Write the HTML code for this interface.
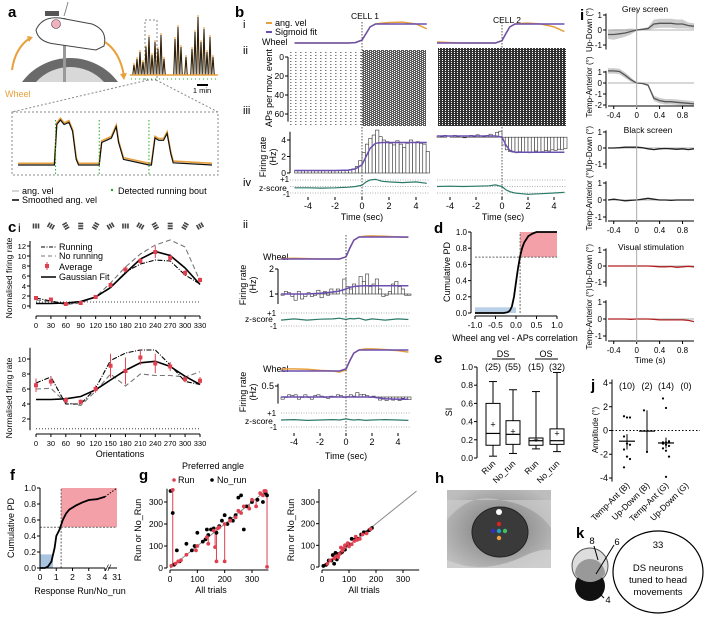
<!DOCTYPE html>
<html><head><meta charset="utf-8">
<style>
body{margin:0;background:#fff}
svg{display:block;font-family:"Liberation Sans",sans-serif}
.lb{font-weight:bold;font-size:15px}
.s{font-size:8.5px}
</style></head><body>
<svg id="fig" width="708" height="620" viewBox="0 0 708 620">
<defs>
<pattern id="sparse" width="5" height="3" patternUnits="userSpaceOnUse"><rect x="0" y="1" width="1.5" height="1" fill="#222"/></pattern>
<pattern id="dense" width="3" height="2" patternUnits="userSpaceOnUse"><rect width="3" height="2" fill="#1a1a1a"/><rect x="1" y="0" width="1" height="1" fill="#fff"/></pattern>
<pattern id="dense2" width="4" height="2" patternUnits="userSpaceOnUse"><rect width="4" height="2" fill="#222"/><rect x="2" y="1" width="1" height="1" fill="#fff"/><rect x="0" y="0" width="1" height="1" fill="#fff"/></pattern>
<radialGradient id="eyeg" cx="0.5" cy="0.5" r="0.6"><stop offset="0" stop-color="#777"/><stop offset="0.5" stop-color="#9a9a9a"/><stop offset="1" stop-color="#bdbdbd"/></radialGradient>
</defs>
<text class="lb" x="8" y="17">a</text>
<text class="lb" x="235" y="17">b</text>
<text class="lb" x="8" y="232">c</text>
<text x="18" y="232" font-size="12">i</text>
<text class="lb" x="434" y="233">d</text>
<text class="lb" x="434" y="363">e</text>
<text class="lb" x="10" y="480">f</text>
<text class="lb" x="139" y="480">g</text>
<text class="lb" x="435" y="483">h</text>
<text class="lb" x="580" y="20">i</text>
<text class="lb" x="591" y="390">j</text>
<text class="lb" x="576" y="538">k</text>
<g font-size="11">
<text x="243" y="28">i</text><text x="243" y="54">ii</text><text x="243" y="114">iii</text><text x="243" y="186">iv</text><text x="243" y="228">ii</text>
</g>
<text x="365" y="19" class="s" text-anchor="middle">CELL 1</text>
<text x="507" y="23" class="s" text-anchor="middle">CELL 2</text>
<line x1="266" y1="23" x2="272" y2="23" stroke="#e8a03c" stroke-width="2"/>
<text x="275" y="26" font-size="9">ang. vel</text>
<line x1="266" y1="32" x2="272" y2="32" stroke="#6b4fb0" stroke-width="2"/>
<text x="275" y="35" font-size="9">Sigmoid fit</text>
<text x="262" y="45" font-size="9">Wheel</text>
<text x="272" y="88" font-size="9" transform="rotate(-90 272 88)" text-anchor="middle">APs per mov. event</text>
<text x="266" y="157" font-size="9" transform="rotate(-90 266 157)" text-anchor="middle">Firing rate</text>
<text x="276" y="157" font-size="9" transform="rotate(-90 276 157)" text-anchor="middle">(Hz)</text>
<text x="259" y="191" font-size="8.5">z-score</text>
<text x="280" y="182" font-size="8">+1</text>
<text x="283" y="197" font-size="8">-1</text>
<text x="362" y="220" font-size="9" text-anchor="middle">Time (sec)</text>
<text x="503" y="220" font-size="9" text-anchor="middle">Time (sec)</text>
<text x="263" y="260" font-size="9">Wheel</text>
<text x="246" y="285" font-size="9" transform="rotate(-90 246 285)" text-anchor="middle">Firing rate</text>
<text x="256" y="285" font-size="9" transform="rotate(-90 256 285)" text-anchor="middle">(Hz)</text>
<text x="245" y="322" font-size="8.5">z-score</text>
<text x="267" y="316" font-size="8">+1</text>
<text x="270" y="329" font-size="8">-1</text>
<text x="263" y="372" font-size="9">Wheel</text>
<text x="246" y="392" font-size="9" transform="rotate(-90 246 392)" text-anchor="middle">Firing rate</text>
<text x="256" y="392" font-size="9" transform="rotate(-90 256 392)" text-anchor="middle">(Hz)</text>
<text x="245" y="424" font-size="8.5">z-score</text>
<text x="267" y="416" font-size="8">+1</text>
<text x="270" y="430" font-size="8">-1</text>
<text x="346" y="459" font-size="9" text-anchor="middle">Time (sec)</text>
<text x="12" y="278" font-size="8.5" transform="rotate(-90 12 278)" text-anchor="middle">Normalised firing rate</text>
<text x="12" y="398" font-size="8.5" transform="rotate(-90 12 398)" text-anchor="middle">Normalised firing rate</text>
<text x="120" y="457" font-size="9" text-anchor="middle">Orientations</text>
<g font-size="9">
<line x1="41" y1="247" x2="56" y2="247" stroke="#000" stroke-dasharray="4,1.5,1,1.5"/><text x="59" y="250">Running</text>
<line x1="41" y1="256" x2="56" y2="256" stroke="#777" stroke-dasharray="4,3"/><text x="59" y="259">No running</text>
<line x1="47" y1="262" x2="47" y2="270" stroke="#e04050"/><rect x="45" y="264" width="4" height="4" fill="#e04050"/><text x="59" y="270">Average</text>
<line x1="41" y1="277" x2="56" y2="277" stroke="#000" stroke-width="1.5"/><text x="59" y="280">Gaussian Fit</text>
</g>
<text x="5" y="97" font-size="9" fill="#e8a03c">Wheel</text>
<text x="202" y="93" font-size="7.5" text-anchor="middle">1 min</text>
<line x1="197" y1="85" x2="208" y2="85" stroke="#000" stroke-width="2"/>
<g font-size="9">
<line x1="12" y1="191" x2="19" y2="191" stroke="#aaa"/><text x="22" y="194">ang. vel</text>
<line x1="12" y1="200" x2="19" y2="200" stroke="#000" stroke-width="1.5"/><text x="22" y="203">Smoothed ang. vel</text>
<circle cx="112" cy="190" r="1.2" fill="#2a2"/><text x="118" y="194">Detected running bout</text>
</g>
<text x="450" y="272" font-size="9" transform="rotate(-90 450 272)" text-anchor="middle">Cumulative PD</text>
<text x="515" y="341" font-size="9" text-anchor="middle">Wheel ang vel - APs correlation</text>
<text x="452" y="412" font-size="9" transform="rotate(-90 452 412)" text-anchor="middle">SI</text>
<text x="503" y="357" font-size="9" text-anchor="middle">DS</text>
<line x1="492" y1="359" x2="515" y2="359" stroke="#000"/>
<text x="546" y="357" font-size="9" text-anchor="middle">OS</text>
<line x1="535" y1="359" x2="558" y2="359" stroke="#000"/>
<text x="14" y="528" font-size="9" transform="rotate(-90 14 528)" text-anchor="middle">Cumulative PD</text>
<text x="80" y="594" font-size="9" text-anchor="middle">Response Run/No_run</text>
<text x="213" y="469" font-size="9" text-anchor="middle">Preferred angle</text>
<circle cx="174" cy="480" r="1.8" fill="#e04050"/>
<text x="178" y="483" font-size="9">Run</text>
<circle cx="212" cy="480" r="1.8" fill="#000"/>
<text x="217" y="483" font-size="9">No_run</text>
<text x="141" y="530" font-size="9" transform="rotate(-90 141 530)" text-anchor="middle">Run or No_Run</text>
<text x="211" y="593" font-size="9" text-anchor="middle">All trials</text>
<text x="294" y="530" font-size="9" transform="rotate(-90 294 530)" text-anchor="middle">Run or No_Run</text>
<text x="364" y="593" font-size="9" text-anchor="middle">All trials</text>
<text x="645" y="12" font-size="8.5" text-anchor="middle">Grey screen</text>
<text x="648" y="133" font-size="8.5" text-anchor="middle">Black screen</text>
<text x="651" y="250" font-size="8.5" text-anchor="middle">Visual stimulation</text>
<text x="650" y="363" font-size="8.5" text-anchor="middle">Time (s)</text>
<g font-size="8" text-anchor="middle">
<text x="592" y="30" transform="rotate(-90 592 30)">Up-Down (°)</text>
<text x="592" y="87" transform="rotate(-90 592 87)">Temp-Anterior (°)</text>
<text x="592" y="148" transform="rotate(-90 592 148)">Up-Down (°)</text>
<text x="592" y="200" transform="rotate(-90 592 200)">Temp-Anterior (°)</text>
<text x="592" y="266" transform="rotate(-90 592 266)">Up-Down (°)</text>
<text x="592" y="319" transform="rotate(-90 592 319)">Temp-Anterior (°)</text>
</g>
<text x="598" y="430" font-size="8" transform="rotate(-90 598 430)" text-anchor="middle">Amplitude (°)</text>
<ellipse cx="658" cy="572" rx="45" ry="41" fill="#fff" stroke="#000" stroke-width="1.2"/>
<circle cx="590" cy="566" r="18" fill="#ddd" stroke="#555"/>
<circle cx="590" cy="586" r="15" fill="#111"/>
<path d="M575,574 A15,15 0 0 1 605,574 A18,18 0 0 1 575,574 Z" fill="#999"/>
<g font-size="9.5" text-anchor="middle">
<text x="658" y="548">33</text><text x="658" y="571">DS neurons</text><text x="658" y="583">tuned to head</text><text x="658" y="595">movements</text>
<text x="592" y="544">8</text><text x="617" y="545">6</text><text x="608" y="603">4</text>
</g>
<line x1="594" y1="546" x2="598" y2="560" stroke="#000"/>
<line x1="614" y1="545" x2="596" y2="574" stroke="#000"/>
<line x1="604" y1="598" x2="600" y2="594" stroke="#000"/>
<rect x="447" y="490" width="104" height="78" fill="url(#eyeg)"/>
<path d="M447,520 Q470,492 500,500 Q535,505 551,528 L551,500 L447,500 Z" fill="#d0d0d0" opacity="0.6"/>
<path d="M447,560 Q480,575 520,558 Q540,548 551,550 L551,568 L447,568 Z" fill="#d5d5d5" opacity="0.7"/>
<ellipse cx="500" cy="532" rx="28" ry="25" fill="#3a3a3a" stroke="#222"/>
<circle cx="499" cy="512" r="3" fill="#fff"/>
<circle cx="499" cy="524" r="2.2" fill="#e02020"/>
<circle cx="493" cy="531" r="2.2" fill="#3030c0"/>
<circle cx="499" cy="531" r="2.2" fill="#20a0c0"/>
<circle cx="505" cy="531" r="2.2" fill="#40c060"/>
<circle cx="499" cy="538" r="2.2" fill="#f0a040"/>
<g>
<path d="M22,82 A60,60 0 0 1 118,82 Z" fill="#6a6a6a"/>
<path d="M36,82 A46,46 0 0 1 104,82 Z" fill="#d8d8d8"/>
<rect x="63" y="18" width="3" height="64" fill="#999"/>
<path d="M36,30 Q42,16 60,18 L92,24 Q108,30 104,46 L96,50 L55,44 Q38,42 36,30 Z" fill="#fff" stroke="#444"/>
<circle cx="56" cy="24" r="4.5" fill="#f0b0c0" stroke="#444" stroke-width="0.6"/>
<rect x="45" y="11" width="14" height="5" fill="#555"/>
<path d="M68,2 Q66,10 64,16" fill="none" stroke="#888"/>
<path d="M12,70 Q15,48 30,38" fill="none" stroke="#e8a03c" stroke-width="2"/>
<path d="M27,36 L33,37 L29,42 Z" fill="#e8a03c"/>
<path d="M105,42 Q120,52 124,76" fill="none" stroke="#e8a03c" stroke-width="2"/>
<path d="M120,74 L127,73 L124,80 Z" fill="#e8a03c"/>
</g>
<path d="M148,80 L12,112 M156,80 L218,112" stroke="#888" stroke-dasharray="2,2" fill="none"/>
<rect x="145" y="20" width="12" height="60" fill="none" stroke="#888" stroke-dasharray="2,2"/>
<rect x="12" y="112" width="206" height="63" fill="none" stroke="#888" stroke-dasharray="2,2"/>
</svg>
<script>
const NS='http://www.w3.org/2000/svg';
const S=document.getElementById('fig');
function mk(tag,attrs){const e=document.createElementNS(NS,tag);for(const k in attrs)e.setAttribute(k,attrs[k]);S.appendChild(e);return e;}
function lin(d0,d1,r0,r1){return v=>r0+(v-d0)*(r1-r0)/(d1-d0);}
function path(xs,ys,sx,sy,st,name){let d='';xs.forEach((x,i)=>{d+=(i?'L':'M')+sx(x).toFixed(1)+','+sy(ys[i]).toFixed(1);});const p=mk('path',Object.assign({d:d,fill:'none'},st));


return p;}
function yaxis(x,ymin,ymax,sy,ticks,labels,name,fs){const a=mk('line',{x1:x,x2:x,y1:sy(ymin),y2:sy(ymax),stroke:'#000'});


ticks.forEach((v,i)=>{const t=mk('line',{x1:x-3,x2:x,y1:sy(v),y2:sy(v),stroke:'#000'});


const tx=mk('text',{x:x-4,y:sy(v)+3,'text-anchor':'end','font-size':fs||9});


tx.textContent=labels[i];});}
function xaxis(y,xmin,xmax,sx,ticks,labels,name,fs,noline){if(!noline){const a=mk('line',{x1:sx(xmin),x2:sx(xmax),y1:y,y2:y,stroke:'#000'});

}
ticks.forEach((v,i)=>{const t=mk('line',{x1:sx(v),x2:sx(v),y1:y,y2:y+3,stroke:'#000'});


const tx=mk('text',{x:sx(v),y:y+12,'text-anchor':'middle','font-size':fs||9});


tx.textContent=labels[i];});}
function hline(x1,x2,y,st,name){const l=mk('line',Object.assign({x1:x1,x2:x2,y1:y,y2:y},st));

return l;}
function vline(x,y1,y2,st,name){const l=mk('line',Object.assign({x1:x,x2:x,y1:y1,y2:y2},st));

return l;}

/* ---------- DATA ---------- */
const runBoutTop=[[134,12],[137,18],[140,25],[143,15],[146,30],[149,40],[152,22],[155,35],[158,28],[161,42],[164,18],[175,38],[178,50],[181,30],[186,20],[192,28],[195,45],[198,60],[201,35],[204,48],[207,25],[210,40],[213,20]];
const zoomT=[0,30,32,35,38,42,45,48,50,67,69,73,77,81,83,87,108,110,113,116,120,123,126,128,160];
const zoomV=[0,0,36,40,36,38,30,5,0,0,20,22,24,34,20,5,0,0,24,22,22,28,10,2,0];
const boutStarts=[31,67,108];
const orientTicks=[0,30,60,90,120,150,180,210,240,270,300,330];
const cTopAvg=[1.6,1.3,0.4,0.6,1.8,4.2,7.3,9.0,10.8,9.6,6.6,5.2];
const cTopErr=[0.3,0.3,0.2,0.3,0.4,0.5,0.6,0.6,1.2,0.8,0.6,0.5];
const cTopRun=[1.6,1.0,0.4,0.8,1.8,3.6,6.8,8.4,9.2,9.0,6.2,4.4];
const cTopNoRun=[1.2,0.9,0.3,0.6,1.8,4.6,7.8,10.4,12.2,13.2,11.8,5.0];
const cTopFit=[0.5,0.5,0.6,0.9,1.8,3.7,6.6,9.4,10.9,10.1,7.6,4.3];
const cBotAvg=[6.5,7.0,4.5,4.3,6.0,9.1,8.4,10.2,9.4,9.0,7.3,7.1];
const cBotErr=[0.9,0.6,0.4,0.3,0.5,1.6,1.8,1.0,1.3,0.6,0.4,0.5];
const cBotRun=[6.8,7.6,4.0,4.0,6.1,9.8,10.8,11.2,11.2,9.2,7.0,6.6];
const cBotNoRun=[6.0,6.1,4.2,3.8,5.7,8.0,6.4,8.0,7.8,7.8,7.6,8.3];
const cBotFit=[4.6,4.6,4.7,5.0,5.9,7.2,8.5,9.5,9.7,9.0,7.7,6.6];
const bTime=[-5,-4,-3,-2,-1,-0.5,0,0.3,0.6,1,1.5,2,3,4,4.8];
const c1Wheel=[0,0,0,0,0,0.02,0.15,0.5,0.85,1,1,1,1,1,1];
const c1Orange=[0,0,0,0,0,0.02,0.15,0.5,0.85,1,1.05,1.08,1.1,1.0,0.75];
const c2Wheel=[0,0,0,0,0,0,0.12,0.5,0.85,1,1,1,1,1,1];
const c2Orange=[0.05,0.02,0,0,0,0,0.12,0.5,0.85,1,1.03,1.05,1.0,0.85,0.6];
const c1Hist=[0.3,0.3,0.3,0.3,0.3,0.3,0.3,0.3,0.3,0.3,0.3,0.3,0.3,0.3,0.3,0.3,0.4,0.5,0.8,1.5,2.5,3.5,4.2,4.6,5.2,4.4,4.0,3.8,3.6,3.4,3.9,3.5,3.1,3.6,4.0,3.7,3.8,3.6,3.5,2.6];
const c1Fit=[0.3,0.3,0.3,0.3,0.35,0.5,1.0,2.0,3.0,3.6,3.7,3.7,3.7,3.7,3.7];
const c2Hist=[4.0,3.9,4.1,3.8,4.0,4.1,3.9,4.0,3.7,4.0,4.1,3.9,4.2,4.0,3.9,4.1,4.3,4.0,4.6,4.8,2.5,1.7,1.4,1.3,1.2,1.4,1.3,1.3,1.2,1.3,1.5,1.3,1.4,1.6,1.5,1.7,1.6,1.8,1.7,1.9];
const c2Fit=[4,4,4,4,4,4,3.8,2.5,1.6,1.3,1.3,1.3,1.3,1.3,1.3];
const c1Z=[-0.2,-0.2,-0.25,-0.2,-0.1,0,0.2,0.7,1.0,1.1,0.8,0.7,0.6,0.7,0.5];
const c2Z=[0,0.05,0,0.05,0.1,0.25,0,-0.5,-0.8,-1,-1.1,-1.2,-1.1,-1.0,-0.9];
const mAHist=[0.95,1.1,1.05,0.9,0.75,1.1,0.8,0.9,1.05,0.9,0.95,1.15,0.85,1.1,0.95,1.2,1.1,1.2,1.0,1.6,1.3,1.2,1.4,1.3,1.7,1.5,1.8,1.3,1.4,1.6,1.2,0.9,0.95,1.1,1.4,1.5,1.3,1.2,0.95,0.95];
const mAFit=[1,1,1,1.03,1.08,1.12,1.2,1.27,1.3,1.32,1.33,1.33,1.33,1.33,1.33];
const mAWheel=[0,0,0,0,0,0,0.1,0.5,0.85,1,1,1,1,1,1];
const mAOrange=[0.02,0.03,0.02,0,0,0,0.1,0.5,0.85,1,1.04,1.05,1.03,1,0.98];
const mAZ=[-0.1,0.1,-0.1,0.05,0.1,0.2,0,0.15,0.1,0.2,-0.1,0.1,-0.1,0.1,0];
const mBHist=[0.2,0.25,0.3,0.28,0.3,0.2,0.25,0.3,0.25,0.2,0.28,0.3,0.27,0.25,0.22,0.27,0.26,0.3,0.28,0.25,0.26,0.3,0.27,0.35,0.3,0.31,0.28,0.25,0.27,0.25,0.18,0.2,0.17,0.2,0.18,0.2,0.17,0.22,0.2,0.19];
const mBFit=[0.25,0.25,0.25,0.25,0.25,0.25,0.25,0.25,0.25,0.25,0.25,0.25,0.21,0.2,0.2];
const mBWheel=[0,0,0,0,0,0,0.1,0.5,0.85,1,1,1,1,1,1];
const mBOrange=[0.1,0.1,0.08,0.03,0,-0.05,0.05,0.5,0.85,1,1.05,1.05,1.02,0.97,0.9];
const mBZ=[0,0.05,-0.05,0,0.05,0,0.15,0.05,0,0.05,-0.05,0,0.05,0,-0.05];
const dX=[-1,-0.3,-0.2,-0.15,-0.1,-0.05,0,0.05,0.1,0.15,0.2,0.3,0.4,0.5,1.0];
const dY=[0,0,0.01,0.03,0.08,0.2,0.38,0.55,0.7,0.8,0.87,0.95,0.98,1,1];
const eBoxes=[{lo:0.02,q1:0.14,med:0.27,q3:0.6,hi:0.84,mean:0.37},{lo:0.05,q1:0.15,med:0.26,q3:0.41,hi:0.75,mean:0.29},{lo:0.1,q1:0.14,med:0.19,q3:0.22,hi:0.73,mean:0.2},{lo:0.07,q1:0.15,med:0.19,q3:0.32,hi:0.94,mean:0.27}];
const eCounts=['(25)','(55)','(15)','(32)'];
const eNames=['Run','No_run','Run','No_run'];
const fX=[0,0.3,0.5,0.7,0.9,1.0,1.2,1.4,1.6,1.8,2.2,2.6,3,3.5,4];
const fY=[0,0,0.02,0.08,0.25,0.4,0.48,0.6,0.68,0.73,0.78,0.82,0.85,0.86,0.89];
const gLRed=[[5,10],[10,355],[20,20],[30,30],[40,35],[60,60],[95,80],[100,100],[135,140],[140,110],[165,95],[170,30],[175,180],[200,30],[200,200],[240,230],[250,260],[260,250],[270,280],[290,270],[300,310],[315,280],[330,340],[340,330],[345,350],[355,5],[350,350],[160,170],[180,185],[220,215]];
const gLBlack=[[2,350],[10,250],[15,15],[25,80],[35,30],[60,110],[80,80],[90,100],[100,160],[120,120],[135,175],[140,150],[150,175],[160,180],[180,190],[190,215],[200,240],[210,200],[220,225],[230,215],[240,240],[250,320],[260,330],[270,175],[280,280],[300,300],[320,310],[340,300],[350,340],[355,330],[130,130],[170,160]];
const gRRed=[[20,15],[30,30],[45,40],[55,50],[65,60],[80,85],[85,100],[100,95],[110,105],[120,120],[130,125],[140,130],[150,150],[165,155],[180,175],[60,45],[75,75],[95,110],[125,140],[70,90]];
const gRBlack=[[5,5],[15,10],[25,30],[35,30],[40,55],[50,65],[55,35],[60,60],[70,65],[75,70],[90,100],[100,105],[110,130],[120,125],[135,130],[145,150],[155,160],[165,160],[175,170],[185,180],[45,15],[85,80]];
const iT=[-0.5,-0.4,-0.3,-0.2,-0.1,0,0.1,0.2,0.3,0.4,0.5,0.6,0.7,0.8,0.9,1.0];
const iGreyUD=[-0.3,-0.3,-0.25,-0.2,-0.1,0,0.05,0.1,0.4,0.45,0.45,0.45,0.4,0.4,0.3,0.25];
const iGreyUDsem=[0.3,0.35,0.3,0.25,0.2,0.05,0.05,0.1,0.3,0.3,0.3,0.3,0.3,0.3,0.2,0.2];
const iGreyTA=[1.1,1.1,1.05,0.7,0.3,0,-0.05,-0.2,-1.4,-1.6,-1.7,-1.7,-1.75,-1.8,-1.85,-1.9];
const iGreyTAsem=[0.25,0.25,0.25,0.25,0.2,0.05,0.05,0.1,0.25,0.25,0.25,0.25,0.25,0.25,0.25,0.25];
const iBlackUD=[0,0,0.02,0.05,0.05,0.05,0.02,-0.05,-0.1,-0.05,-0.03,-0.05,-0.08,-0.05,-0.1,-0.05];
const iBlackTA=[0,0.05,0,-0.05,-0.02,0,0.05,0.1,0.05,0,0,-0.02,0,0,0,0];
const iVisUD=[0,0,0,0,0,0,0,0,-0.02,-0.05,-0.05,-0.03,-0.08,-0.05,-0.02,-0.05];
const iVisTA=[0,0,0,0,-0.02,0,0,0,-0.02,-0.05,-0.05,-0.05,-0.05,-0.05,-0.08,-0.15];
const jGroups=['Temp-Ant (B)','Up-Down (B)','Temp-Ant (G)','Up-Down (G)'];
const jCounts=['(10)','(2)','(14)','(0)'];
const jPoints=[[1.2,1.1,1.1,-0.5,-1.1,-1.2,-1.6,-2.2,-2.4,-3.1],[1.7,-1.8],[2.7,1.9,-0.9,-1.0,-1.0,-1.0,-1.1,-1.2,-1.3,-1.5,-1.7,-2.2,-1.1,-3.9],[]];
const jMean=[-0.9,-0.05,-1.05,null];
const jErrLo=[-1.6,-1.8,-1.5,null];
const jErrHi=[-0.3,1.7,-0.6,null];

/* ---------- PANEL A ---------- */
runBoutTop.forEach(p=>{const s=mk('path',{d:`M${p[0]-1.5},75 L${p[0]},${75-p[1]} L${p[0]+1.5},75`,fill:'none',stroke:'#e8a03c','stroke-width':1});


const k=mk('path',{d:`M${p[0]-1.2},75 L${p[0]},${77-p[1]} L${p[0]+1.2},75`,fill:'none',stroke:'#111','stroke-width':0.9});

});
hline(130,218,75,{stroke:'#e8a03c','stroke-width':1.5},'top-trace-baseline');
hline(131,217,79,{stroke:'#2a2','stroke-dasharray':'1,3'},'top-trace-bouts');
const zsx=lin(0,160,18,212), zsy=lin(0,40,165,120);
path(zoomT,zoomV.map(v=>v+1.5),zsx,zsy,{stroke:'#e8a03c','stroke-width':1.6},'zoom-trace-raw');
path(zoomT,zoomV,zsx,zsy,{stroke:'#111','stroke-width':1.2},'zoom-trace-smooth');
boutStarts.forEach(t=>vline(zsx(t),120,176,{stroke:'#2a2','stroke-dasharray':'1.5,2'},'running-bout-marker'));

/* ---------- PANEL B ---------- */
const b1x=lin(-5,5,294.5,429.5), b2x=lin(-5,5,437,567);
let r=mk('rect',{x:290,y:50,width:72,height:76,fill:'url(#sparse)',opacity:0.6});


r=mk('rect',{x:362,y:50,width:64,height:76,fill:'url(#dense2)',opacity:0.75});


r=mk('rect',{x:438,y:48,width:128,height:78,fill:'url(#dense)',opacity:0.9});


const rsy=lin(0,60,57,114);
yaxis(288,0,68,rsy,[0,20,40,60],['0','20','40','60'],'raster-y-axis',8.5);
const w1=lin(0,1,43,24), w2=lin(0,1,43,24);
path(bTime,c1Orange,b1x,w1,{stroke:'#e8a03c','stroke-width':1.5},'cell1-wheel-angvel');
path(bTime,c1Wheel,b1x,w1,{stroke:'#6b4fb0','stroke-width':1.5},'cell1-wheel-sigmoid');
path(bTime,c2Orange,b2x,w2,{stroke:'#e8a03c','stroke-width':1.5},'cell2-wheel-angvel');
path(bTime,c2Wheel,b2x,w2,{stroke:'#6b4fb0','stroke-width':1.5},'cell2-wheel-sigmoid');
const f1y=lin(0,4,173,140);
c1Hist.forEach((v,i)=>{const t0=-5+i*0.25;const b=mk('rect',{x:b1x(t0),y:f1y(v),width:b1x(0.25)-b1x(0),height:f1y(0)-f1y(v),fill:'#fff',stroke:'#333','stroke-width':0.6});

});
path(bTime,c1Fit,b1x,f1y,{stroke:'#6b4fb0','stroke-width':1.5},'cell1-rate-fit');
yaxis(290,0,5,f1y,[0,2,4],['0','2','4'],'cell1-rate-axis',8.5);
const f2y=lin(0,4,160,136);
c2Hist.forEach((v,i)=>{const t0=-5+i*0.25;const y1=f2y(Math.max(v,3.8)),y2=f2y(Math.min(v,3.8));const b=mk('rect',{x:b2x(t0),y:y1,width:b2x(0.25)-b2x(0),height:y2-y1,fill:'#fff',stroke:'#333','stroke-width':0.6});

});
path(bTime,c2Fit,b2x,f2y,{stroke:'#6b4fb0','stroke-width':1.5},'cell2-rate-fit');
const z1=lin(-1,1,193,180);
[180,186.5,193].forEach(y=>{hline(290,430,y,{stroke:'#999','stroke-dasharray':'1,1.5','stroke-width':0.7},'cell1-z-guide');hline(437,567,y,{stroke:'#999','stroke-dasharray':'1,1.5','stroke-width':0.7},'cell2-z-guide');});
path(bTime,c1Z,b1x,z1,{stroke:'#2a7a6a','stroke-width':1.2},'cell1-zscore');
path(bTime,c2Z,b2x,z1,{stroke:'#2a7a6a','stroke-width':1.2},'cell2-zscore');
vline(b1x(0),22,200,{stroke:'#555','stroke-dasharray':'1.5,1.5'},'cell1-onset-line');
vline(b2x(0),22,200,{stroke:'#555','stroke-dasharray':'1.5,1.5'},'cell2-onset-line');
xaxis(197,-5,5,b1x,[-4,-2,0,2,4],['-4','-2','0','2','4'],'cell1-x-axis',9,true);
xaxis(197,-5,5,b2x,[-4,-2,0,2,4],['-4','-2','0','2','4'],'cell2-x-axis',9,true);

/* ---------- MIDDLE ii ---------- */
const mx=lin(-5,5,281,411);
const mwA=lin(0,1,259,237), mwB=lin(0,1,371,350);
path(bTime,mAOrange,mx,mwA,{stroke:'#e8a03c','stroke-width':1.5},'midA-wheel-angvel');
path(bTime,mAWheel,mx,mwA,{stroke:'#6b4fb0','stroke-width':1.5},'midA-wheel-sigmoid');
path(bTime,mBOrange,mx,mwB,{stroke:'#e8a03c','stroke-width':1.5},'midB-wheel-angvel');
path(bTime,mBWheel,mx,mwB,{stroke:'#6b4fb0','stroke-width':1.5},'midB-wheel-sigmoid');
const mAy=lin(1,2,294,269);
mAHist.forEach((v,i)=>{const t0=-5+i*0.25;const y1=mAy(Math.max(v,1)),y2=mAy(Math.min(v,1));const b=mk('rect',{x:mx(t0),y:y1,width:mx(0.25)-mx(0),height:y2-y1,fill:'#fff',stroke:'#333','stroke-width':0.6});

});
path(bTime,mAFit,mx,mAy,{stroke:'#6b4fb0','stroke-width':1.5},'midA-rate-fit');
yaxis(278,0.6,2,mAy,[1,2],['1','2'],'midA-rate-axis',9);
const mBy=lin(0.25,0.5,397,386);
mBHist.forEach((v,i)=>{const t0=-5+i*0.25;const y1=mBy(Math.max(v,0.25)),y2=mBy(Math.min(v,0.25));const b=mk('rect',{x:mx(t0),y:y1,width:mx(0.25)-mx(0),height:Math.max(y2-y1,0.5),fill:'#fff',stroke:'#333','stroke-width':0.6});

});
path(bTime,mBFit,mx,mBy,{stroke:'#6b4fb0','stroke-width':1.5},'midB-rate-fit');
yaxis(278,0.1,0.55,mBy,[0.5],['0.5'],'midB-rate-axis',9);
const zA=lin(-1,1,326,313), zB=lin(-1,1,427,413);
[313,326].forEach(y=>hline(281,411,y,{stroke:'#999','stroke-dasharray':'1,1.5','stroke-width':0.7},'midA-z-guide'));
[413,427].forEach(y=>hline(281,411,y,{stroke:'#999','stroke-dasharray':'1,1.5','stroke-width':0.7},'midB-z-guide'));
path(bTime,mAZ,mx,zA,{stroke:'#2a7a6a','stroke-width':1.2},'midA-zscore');
path(bTime,mBZ,mx,zB,{stroke:'#2a7a6a','stroke-width':1.2},'midB-zscore');
vline(mx(0),235,432,{stroke:'#555','stroke-dasharray':'1.5,1.5'},'mid-onset-line');
xaxis(433,-5,5,mx,[-4,-2,0,2,4],['-4','-2','0','2','4'],'mid-x-axis',9,true);

/* ---------- PANEL C ---------- */
const cx=lin(0,330,36,200);
orientTicks.forEach((o,i)=>{const g=mk('g',{transform:`translate(${cx(o)},226) rotate(${o})`});


[-2.5,0,2.5].forEach(d=>{const l=document.createElementNS(NS,'rect');l.setAttribute('x',d-0.8);l.setAttribute('y',-2.5);l.setAttribute('width',1.6);l.setAttribute('height',5);l.setAttribute('fill','#444');


g.appendChild(l);});});
function tuning(sy,avg,err,run,norun,fit,base,pre){
 hline(cx(0),cx(330),sy(base),{stroke:'#444','stroke-dasharray':'1,2'},pre+'-baseline');
 path(orientTicks,norun,cx,sy,{stroke:'#777','stroke-dasharray':'5,3','stroke-width':1.1},pre+'-norun-curve');
 path(orientTicks,run,cx,sy,{stroke:'#000','stroke-dasharray':'5,1.5,1,1.5','stroke-width':1.1},pre+'-run-curve');
 path(orientTicks,fit,cx,sy,{stroke:'#000','stroke-width':1.6},pre+'-gaussian-fit');
 avg.forEach((v,i)=>{const l=mk('line',{x1:cx(orientTicks[i]),x2:cx(orientTicks[i]),y1:sy(v-err[i]),y2:sy(v+err[i]),stroke:'#e04050'});
 
 
 const m=mk('rect',{x:cx(orientTicks[i])-2,y:sy(v)-2,width:4,height:4,fill:'#e04050'});
 
 });
}
const cty=lin(0,12,306,246);
yaxis(30,-0.5,13,cty,[0,2,4,6,8,10,12],['0','2','4','6','8','10','12'],'c-top-y-axis',7.5);
xaxis(316,0,330,cx,orientTicks,orientTicks.map(String),'c-top-x-axis',7.5);
tuning(cty,cTopAvg,cTopErr,cTopRun,cTopNoRun,cTopFit,0.8,'c-top');
const cby=lin(2,10,419,359);
yaxis(30,0.5,11.5,cby,[2,4,6,8,10],['2','4','6','8','10'],'c-bot-y-axis',7.5);
xaxis(434,0,330,cx,orientTicks,orientTicks.map(String),'c-bot-x-axis',7.5);
tuning(cby,cBotAvg,cBotErr,cBotRun,cBotNoRun,cBotFit,0.7,'c-bot');

/* ---------- PANEL D ---------- */
const dx=lin(-1,1,475,557), dy=lin(0,1,313,232);
let bx=mk('rect',{x:dx(-1),y:dy(0.07),width:dx(0)-dx(-1),height:dy(0)-dy(0.07),fill:'#a8c4e0',opacity:0.8});


bx=mk('rect',{x:dx(0.1),y:dy(1),width:dx(1)-dx(0.1),height:dy(0.69)-dy(1),fill:'#f4a0a8'});


hline(dx(-1),dx(1),dy(0.69),{stroke:'#666','stroke-dasharray':'2,1.5'},'d-threshold-h');
vline(dx(0.1),dy(0),dy(1),{stroke:'#666','stroke-dasharray':'2,1.5'},'d-threshold-v');
path(dX,dY,dx,dy,{stroke:'#000','stroke-width':1.8},'d-cumulative-curve');
yaxis(471,0,1,dy,[0,0.2,0.4,0.6,0.8,1],['0.0','0.2','0.4','0.6','0.8','1.0'],'d-y-axis',8);
xaxis(316,-1,1,dx,[-1,-0.5,0,0.5,1],['-1.0','-0.5','0.0','0.5','1.0'],'d-x-axis',8.5);

/* ---------- PANEL E ---------- */
const ey=lin(0,1,458,367); const eX=[493,513,536,557];
yaxis(477,0,1,ey,[0,0.2,0.4,0.6,0.8,1],['0.0','0.2','0.4','0.6','0.8','1.0'],'e-y-axis',8.5);
eBoxes.forEach((b,i)=>{const x=eX[i];
 const w=mk('line',{x1:x,x2:x,y1:ey(b.lo),y2:ey(b.hi),stroke:'#000'});
 
 
 [b.lo,b.hi].forEach(v=>hline(x-4,x+4,ey(v),{stroke:'#000'},'e-whisker-cap'));
 const bb=mk('rect',{x:x-7,y:ey(b.q3),width:14,height:ey(b.q1)-ey(b.q3),fill:'#fff',stroke:'#000'});
 
 
 hline(x-7,x+7,ey(b.med),{stroke:'#000','stroke-width':1.2},'e-median');
 const m=mk('text',{x:x,y:ey(b.mean)+3,'text-anchor':'middle','font-size':9});
 
 
 m.textContent='+';
 const c=mk('text',{x:x,y:370,'text-anchor':'middle','font-size':9});
 
 
 c.textContent=eCounts[i];
 const n=mk('text',{x:x+3,y:464,'text-anchor':'end','font-size':8.5,transform:`rotate(-45 ${x+3} 464)`});
 
 
 n.textContent=eNames[i];});

/* ---------- PANEL F ---------- */
const fx=lin(0,4,40,105), fy=lin(0,1,568,488);
bx=mk('rect',{x:fx(0),y:fy(0.17),width:fx(0.8)-fx(0),height:fy(0)-fy(0.17),fill:'#a8c4e0'});


bx=mk('rect',{x:fx(1.3),y:fy(1),width:117-fx(1.3),height:fy(0.51)-fy(1),fill:'#f4a0a8'});


hline(fx(0),117,fy(0.51),{stroke:'#666','stroke-dasharray':'2,1.5'},'f-threshold-h');
vline(fx(1.3),fy(0),fy(1),{stroke:'#666','stroke-dasharray':'2,1.5'},'f-threshold-v');
path(fX,fY,fx,fy,{stroke:'#000','stroke-width':1.8},'f-cumulative-curve');
let dl=mk('line',{x1:fx(4),y1:fy(0.89),x2:117,y2:fy(1),stroke:'#000','stroke-dasharray':'1.5,1.5'});


yaxis(40,0,1,fy,[0,0.2,0.4,0.6,0.8,1],['0.0','0.2','0.4','0.6','0.8','1.0'],'f-y-axis',8.5);
xaxis(568,0,4,fx,[0,1,2,3,4],['0','1','2','3','4'],'f-x-axis',8.5);
hline(108,117,568,{stroke:'#000'},'f-x-axis-break-seg');
let t31=mk('text',{x:117,y:580,'text-anchor':'middle','font-size':8.5});


t31.textContent='31';
let brk=mk('text',{x:108,y:571,'text-anchor':'middle','font-size':9,'font-style':'italic'});


brk.textContent='//';

/* ---------- PANEL G ---------- */
function scatter(sx,sy,red,black,pre,stems){
 const d=mk('line',{x1:sx(0),y1:sy(0),x2:sx(350),y2:sy(350),stroke:'#888'});
 
 
 if(stems)red.forEach(p=>{const l=mk('line',{x1:sx(p[0]),x2:sx(p[0]),y1:sy(p[0]),y2:sy(p[1]),stroke:'#e04050'});
 
 });
 black.forEach(p=>{const c=mk('circle',{cx:sx(p[0]),cy:sy(p[1]),r:1.9,fill:'#000'});
 
 });
 red.forEach(p=>{const c=mk('circle',{cx:sx(p[0]),cy:sy(p[1]),r:1.9,fill:'#e04050'});
 
 });
}
const gx1=lin(0,300,170,252), gy1=lin(0,300,568,502);
yaxis(167,0,360,gy1,[0,100,200,300],['0','100','200','300'],'g-left-y-axis',8.5);
xaxis(570,0,360,gx1,[0,100,200,300],['0','100','200','300'],'g-left-x-axis',8.5);
scatter(gx1,gy1,gLRed,gLBlack,'g-left',true);
const gx2=lin(0,300,322,403), gy2=lin(0,300,567,502);
yaxis(319,0,360,gy2,[0,100,200,300],['0','100','200','300'],'g-right-y-axis',8.5);
xaxis(570,0,360,gx2,[0,100,200,300],['0','100','200','300'],'g-right-x-axis',8.5);
scatter(gx2,gy2,gRRed,gRBlack,'g-right',false);

/* ---------- PANEL I ---------- */
const ix=lin(-0.5,1,608,694);
function ipanel(y1,y0,ym1,vals,sem,col,pre,ticks,xlab){
 const sy=lin(1,0,y1,y0);
 if(sem){let d='';iT.forEach((t,i)=>{d+=(i?'L':'M')+ix(t)+','+sy(vals[i]+sem[i]);});for(let i=iT.length-1;i>=0;i--)d+='L'+ix(iT[i])+','+sy(vals[i]-sem[i]);
 const b=mk('path',{d:d+'Z',fill:'#ccc'});
 
 }
 hline(608,694,sy(0),{stroke:'#999','stroke-width':0.7},pre+'-zero-line');
 path(iT,vals,ix,sy,{stroke:col,'stroke-width':1.3},pre+'-trace');
 yaxis(606,ticks[ticks.length-1]-0.3,1.1,sy,ticks,ticks.map(String),pre+'-y-axis',8);
 if(xlab)xaxis(xlab,-0.5,1,ix,[-0.4,0,0.4,0.8],['-0.4','0','0.4','0.8'],pre+'-x-axis',8);
}
ipanel(15,30,45,iGreyUD,iGreyUDsem,'#555','i-grey-ud',[1,0,-1]);
ipanel(72,83,94,iGreyTA,iGreyTAsem,'#555','i-grey-ta',[1,0,-1,-2],106);
ipanel(132,148,163,iBlackUD,null,'#222','i-black-ud',[1,0,-1]);
ipanel(183,200,215,iBlackTA,null,'#222','i-black-ta',[1,0,-1],221);
ipanel(250,266,282,iVisUD,null,'#b02020','i-vis-ud',[1,0,-1]);
ipanel(302,319,335,iVisTA,null,'#b02020','i-vis-ta',[1,0,-1],341);
[[10,108],[128,222],[246,342]].forEach(r=>vline(ix(0),r[0],r[1],{stroke:'#aaa'},'i-onset-line'));

/* ---------- PANEL J ---------- */
const jy=lin(4,-4,383,478); const jX=[627,647,666,686];
yaxis(612,-4.3,4.3,jy,[4,2,0,-2,-4],['4','2','0','-2','-4'],'j-y-axis',9);
hline(612,700,jy(0),{stroke:'#000','stroke-dasharray':'1.5,2'},'j-zero-line');
jGroups.forEach((g,i)=>{const x=jX[i];
 const c=mk('text',{x:x,y:389,'text-anchor':'middle','font-size':9});
 
 
 c.textContent=jCounts[i];
 jPoints[i].forEach((v,k)=>{const p=mk('circle',{cx:x-3+(k%3)*3,cy:jy(v),r:1.1,fill:'#000'});
 
 });
 if(jMean[i]!==null){vline(x,jy(jErrHi[i]),jy(jErrLo[i]),{stroke:'#000'},'j-errorbar');hline(x-8,x+8,jy(jMean[i]),{stroke:'#000','stroke-width':1.2},'j-mean');}
 const n=mk('text',{x:x+3,y:486,'text-anchor':'end','font-size':8.5,transform:`rotate(-45 ${x+3} 486)`});
 
 
 n.textContent=g;});
</script>
</body></html>
